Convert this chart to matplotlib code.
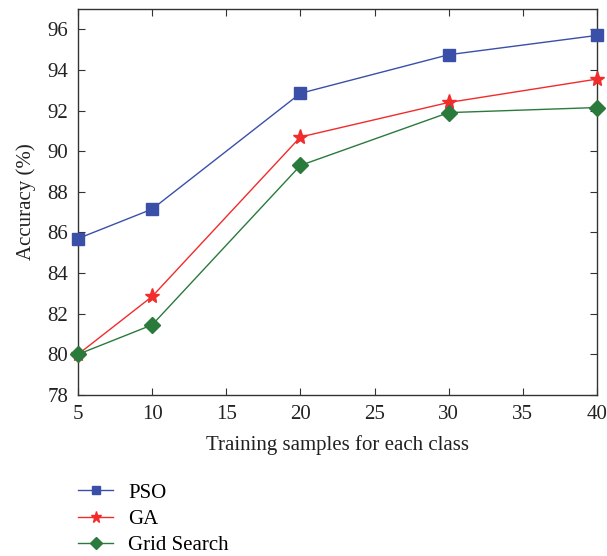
import matplotlib.pyplot as plt

plt.rcParams['font.family'] = ['Liberation Serif', 'DejaVu Serif']

# Data
samples = [5, 10, 20, 30, 40]
pso = [85.7, 87.15, 92.85, 94.75, 95.7]
ga = [80.0, 82.85, 90.7, 92.4, 93.55]
grid = [80.0, 81.45, 89.3, 91.9, 92.15]

fig = plt.figure(figsize=(6.07, 5.56), dpi=100)
ax = fig.add_axes([0.1285, 0.2896, 0.855, 0.6942])

ax.plot(samples, pso, color='#3a4fa8', marker='s', markersize=8, linewidth=1,
        label='PSO', clip_on=False, zorder=3)
ax.plot(samples, ga, color='#f22b2b', marker='*', markersize=11, linewidth=1,
        label='GA', clip_on=False, zorder=3)
ax.plot(samples, grid, color='#2a7a3c', marker='D', markersize=8, linewidth=1,
        label='Grid Search', clip_on=False, zorder=3)

ax.set_xlim(5, 40)
ax.set_ylim(78, 97)
ax.set_xticks([5, 10, 15, 20, 25, 30, 35, 40])
ax.set_yticks(range(78, 97, 2))
ax.tick_params(direction='in', top=True, right=True, labelsize=15, length=5,
               pad=7, color='#333333', labelcolor='#222222')
for s in ax.spines.values():
    s.set_linewidth(1)
    s.set_color('#333333')

ax.set_xlabel('Training samples for each class', fontsize=15, color='#222222', labelpad=8)
ax.set_ylabel('Accuracy (%)', fontsize=15, color='#222222', labelpad=8)

ax.legend(loc='upper left', bbox_to_anchor=(0.0, -0.228), frameon=False, fontsize=15,
          handlelength=1.7, handletextpad=0.7, labelspacing=0.32, borderaxespad=0,
          borderpad=0, markerscale=0.75)

plt.savefig('out.png', dpi=100)
